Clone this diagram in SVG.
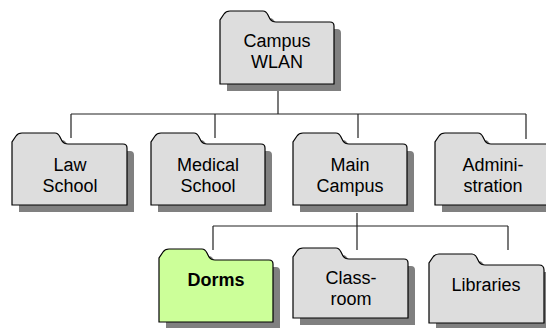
<svg xmlns="http://www.w3.org/2000/svg" width="546" height="328" viewBox="0 0 546 328">
<style>
.shadow{fill:#808080;stroke:none}
.folder{fill:#dddddd;stroke:#000;stroke-width:1.2}
.hl{fill:#ccff99}
.lbl{font-family:"Liberation Sans",Arial,sans-serif;font-size:18px;fill:#000;text-anchor:middle}
.bold{font-weight:bold}
.conn{fill:none;stroke:#222;stroke-width:1.2}
</style>
<rect width="546" height="328" fill="#fff"/>
<g id="connectors">
<path class="conn" d="M278,91 V114 M71,114 H526 M71,114 V138 M215,114 V138 M358,114 V138 M526,114 V139"/>
<path class="conn" d="M357,213 V250 M213,226 H508 M213,226 V250 M508,226 V250"/>
</g>
<g id="campus-wlan">
<path class="shadow" transform="translate(7,7)" d="M220,84 v-64 l4,-6 q2,-3 6,-3 h33 q3,0 5,4 l2,4 q2,3 6,3 h54 q4,0 4,4 v58 z"/>
<path class="folder" d="M220,84 v-64 l4,-6 q2,-3 6,-3 h33 q3,0 5,4 l2,4 q2,3 6,3 h54 q4,0 4,4 v58 z"/>
<text class="lbl" x="277" y="47">Campus</text>
<text class="lbl" x="277" y="68">WLAN</text>
</g>
<g id="law-school">
<path class="shadow" transform="translate(7,7)" d="M12,205 v-63 l4,-6 q2,-3 6,-3 h33 q3,0 5,4 l2,4 q2,3 6,3 h55 q4,0 4,4 v57 z"/>
<path class="folder" d="M12,205 v-63 l4,-6 q2,-3 6,-3 h33 q3,0 5,4 l2,4 q2,3 6,3 h55 q4,0 4,4 v57 z"/>
<text class="lbl" x="70" y="171">Law</text>
<text class="lbl" x="70" y="192">School</text>
</g>
<g id="medical-school">
<path class="shadow" transform="translate(7,7)" d="M151,205 v-63 l4,-6 q2,-3 6,-3 h33 q3,0 5,4 l2,4 q2,3 6,3 h54 q4,0 4,4 v57 z"/>
<path class="folder" d="M151,205 v-63 l4,-6 q2,-3 6,-3 h33 q3,0 5,4 l2,4 q2,3 6,3 h54 q4,0 4,4 v57 z"/>
<text class="lbl" x="208" y="171">Medical</text>
<text class="lbl" x="208" y="192">School</text>
</g>
<g id="main-campus">
<path class="shadow" transform="translate(7,7)" d="M293,205 v-63 l4,-6 q2,-3 6,-3 h33 q3,0 5,4 l2,4 q2,3 6,3 h54 q4,0 4,4 v57 z"/>
<path class="folder" d="M293,205 v-63 l4,-6 q2,-3 6,-3 h33 q3,0 5,4 l2,4 q2,3 6,3 h54 q4,0 4,4 v57 z"/>
<text class="lbl" x="350" y="171">Main</text>
<text class="lbl" x="350" y="192">Campus</text>
</g>
<g id="administration">
<path class="shadow" transform="translate(7,7)" d="M435,205 v-63 l4,-6 q2,-3 6,-3 h33 q3,0 5,4 l2,4 q2,3 6,3 h56 q4,0 4,4 v57 z"/>
<path class="folder" d="M435,205 v-63 l4,-6 q2,-3 6,-3 h33 q3,0 5,4 l2,4 q2,3 6,3 h56 q4,0 4,4 v57 z"/>
<text class="lbl" x="493" y="171">Admini-</text>
<text class="lbl" x="493" y="192">stration</text>
</g>
<g id="dorms">
<path class="shadow" transform="translate(7,7)" d="M159,322 v-64 l4,-6 q2,-3 6,-3 h33 q3,0 5,4 l2,4 q2,3 6,3 h54 q4,0 4,4 v58 z"/>
<path class="folder hl" d="M159,322 v-64 l4,-6 q2,-3 6,-3 h33 q3,0 5,4 l2,4 q2,3 6,3 h54 q4,0 4,4 v58 z"/>
<text class="lbl bold" x="216" y="286">Dorms</text>
</g>
<g id="classroom">
<path class="shadow" transform="translate(7,7)" d="M293,318 v-61 l4,-6 q2,-3 6,-3 h33 q3,0 5,4 l2,4 q2,3 6,3 h55 q4,0 4,4 v55 z"/>
<path class="folder" d="M293,318 v-61 l4,-6 q2,-3 6,-3 h33 q3,0 5,4 l2,4 q2,3 6,3 h55 q4,0 4,4 v55 z"/>
<text class="lbl" x="351" y="284">Class-</text>
<text class="lbl" x="351" y="305">room</text>
</g>
<g id="libraries">
<path class="shadow" transform="translate(7,7)" d="M429,323 v-60 l4,-6 q2,-3 6,-3 h33 q3,0 5,4 l2,4 q2,3 6,3 h54 q5,0 5,5 v53 z"/>
<path class="folder" d="M429,323 v-60 l4,-6 q2,-3 6,-3 h33 q3,0 5,4 l2,4 q2,3 6,3 h54 q5,0 5,5 v53 z"/>
<text class="lbl" x="486" y="291">Libraries</text>
</g>
</svg>
